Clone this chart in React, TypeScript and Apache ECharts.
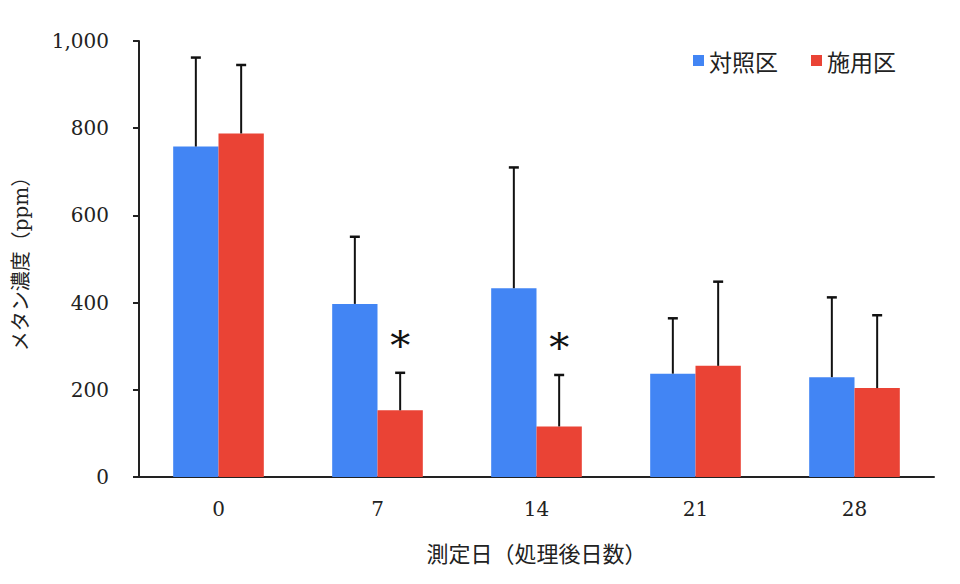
import React, { useEffect, useRef } from "react";
import * as echarts from "echarts";

const categories = ["0", "7", "14", "21", "28"];
const controlMeans = [758, 397, 433, 237, 229];
const controlUpper = [962, 551, 710, 364, 412];
const treatedMeans = [788, 153, 116, 255, 204];
const treatedUpper = [945, 239, 234, 448, 371];
const treatedMarks = ["", "*", "*", "", ""];
const seriesNames = ["対照区", "施用区"];
const yTicks = [0, 200, 400, 600, 800, 1000];

const BLUE = "#4285F4";
const RED = "#EA4335";
const FONT = "'DejaVu Serif', 'Noto Sans CJK JP', serif";
const CAT_GAP = 0.43;

export default function App() {
  const ref = useRef<HTMLDivElement>(null);
  useEffect(() => {
    if (!ref.current) return;
    const chart = echarts.init(ref.current, null, { renderer: "svg" });

    const errData: any[] = [];
    categories.forEach((c, i) => {
      errData.push([i, controlMeans[i], controlUpper[i], 0, ""]);
      errData.push([i, treatedMeans[i], treatedUpper[i], 1, treatedMarks[i]]);
    });

    chart.setOption({
      animation: false,
      backgroundColor: "#ffffff",
      grid: { left: 139, right: 26, top: 41, bottom: 107 },
      legend: {
        data: seriesNames,
        right: 59,
        top: 44,
        itemWidth: 11,
        itemHeight: 11,
        itemGap: 33,
        icon: "rect",
        textStyle: { fontFamily: "'Noto Sans CJK JP', sans-serif", fontSize: 23, color: "#222" },
      },
      xAxis: {
        type: "category",
        data: categories,
        name: "測定日（処理後日数）",
        nameLocation: "middle",
        nameGap: 66,
        nameTextStyle: { fontFamily: FONT, fontSize: 22, color: "#222" },
        axisLine: { lineStyle: { color: "#222", width: 2 } },
        axisTick: { show: false },
        axisLabel: { fontFamily: FONT, fontSize: 20, color: "#222", margin: 22 },
      },
      yAxis: {
        type: "value",
        min: 0,
        max: 1000,
        interval: 200,
        name: "メタン濃度（ppm）",
        nameLocation: "middle",
        nameGap: 108,
        nameTextStyle: { fontFamily: FONT, fontSize: 20, color: "#222" },
        axisLine: { show: true, lineStyle: { color: "#222", width: 2 } },
        axisTick: { show: true, inside: false, length: 6, lineStyle: { color: "#222", width: 2 } },
        splitLine: { show: false },
        axisLabel: {
          fontFamily: FONT,
          fontSize: 20,
          color: "#222",
          margin: 30,
          formatter: (v: number) => (yTicks.includes(v) ? v.toLocaleString("en-US") : ""),
        },
      },
      series: [
        {
          name: seriesNames[0],
          type: "bar",
          data: controlMeans,
          itemStyle: { color: BLUE },
          barGap: "0%",
          barCategoryGap: CAT_GAP * 100 + "%",
        },
        {
          name: seriesNames[1],
          type: "bar",
          data: treatedMeans,
          itemStyle: { color: RED },
          barGap: "0%",
          barCategoryGap: CAT_GAP * 100 + "%",
        },
        {
          type: "custom",
          name: "err",
          data: errData,
          z: 10,
          encode: { x: 0, y: [1, 2] },
          renderItem: (params: any, api: any) => {
            const idx = api.value(0);
            const mean = api.value(1);
            const upper = api.value(2);
            const which = api.value(3);
            const mark = errData[params.dataIndex][4];
            const band = api.size([1, 0])[0];
            const barW = (band * (1 - CAT_GAP)) / 2;
            const base = api.coord([idx, mean]);
            const top = api.coord([idx, upper]);
            const x = base[0] + (which === 0 ? -barW / 2 : barW / 2);
            const children: any[] = [
              {
                type: "line",
                shape: { x1: x, y1: base[1], x2: x, y2: top[1] },
                style: { stroke: "#111", lineWidth: 2 },
              },
              {
                type: "line",
                shape: { x1: x - 5, y1: top[1], x2: x + 5, y2: top[1] },
                style: { stroke: "#111", lineWidth: 2.5 },
              },
            ];
            if (mark) {
              children.push({
                type: "text",
                style: {
                  text: mark,
                  x: x,
                  y: top[1] - 28,
                  align: "center",
                  verticalAlign: "middle",
                  fontSize: 40,
                  fontFamily: "'DejaVu Serif', serif",
                  fill: "#111",
                },
              });
            }
            return { type: "group", children };
          },
        },
      ],
    });
    return () => chart.dispose();
  }, []);
  return <div ref={ref} style={{ width: 960, height: 584, marginLeft: -8, marginTop: -8 }} />;
}
